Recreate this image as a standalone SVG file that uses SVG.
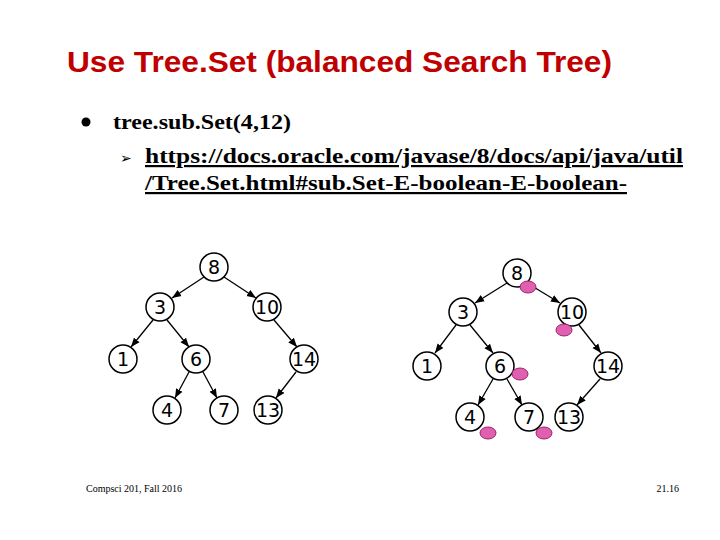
<svg xmlns="http://www.w3.org/2000/svg" width="720" height="540" viewBox="0 0 720 540">
<style>
.n circle{fill:#fff;stroke:#000;stroke-width:1.5}
.n text{font-family:"DejaVu Sans",sans-serif;font-size:19px;text-anchor:middle;dominant-baseline:central}
.e line{stroke:#000;stroke-width:1.3;marker-end:url(#a)}
.p{fill:#e060b0;stroke:#a02070;stroke-width:1}
.s{font-family:"Liberation Serif",serif;font-weight:bold;font-size:22px}
</style>
<defs><marker id="a" viewBox="0 0 10 10" refX="10" refY="5" markerWidth="7" markerHeight="7" orient="auto"><path d="M0,1L10,5L0,9z"/></marker></defs>
<rect width="720" height="540" fill="#fff"/>
<text x="67" y="72" font-family="Liberation Sans,sans-serif" font-weight="bold" font-size="29" fill="#c00000" textLength="545" lengthAdjust="spacingAndGlyphs">Use Tree.Set (balanced Search Tree)</text>
<circle cx="86" cy="122" r="4.5" fill="#000"/>
<text x="113" y="129" class="s" textLength="178" lengthAdjust="spacingAndGlyphs">tree.sub.Set(4,12)</text>
<text x="120" y="163" font-family="DejaVu Sans,sans-serif" font-size="14">➢</text>
<text x="145" y="163" class="s" text-decoration="underline" textLength="538" lengthAdjust="spacingAndGlyphs">https://docs.oracle.com/javase/8/docs/api/java/util</text>
<text x="145" y="190" class="s" text-decoration="underline" textLength="482" lengthAdjust="spacingAndGlyphs">/Tree.Set.html#sub.Set-E-boolean-E-boolean-</text>
<g id="edges" class="e">
<line x1="204" y1="277" x2="172" y2="298"/><line x1="224" y1="277" x2="256" y2="298"/>
<line x1="153" y1="320" x2="131" y2="347"/><line x1="167" y1="320" x2="189" y2="347"/>
<line x1="274" y1="320" x2="297" y2="347"/><line x1="296" y1="372" x2="276" y2="398"/>
<line x1="189" y1="372" x2="175" y2="398"/><line x1="203" y1="372" x2="217" y2="398"/>
<line x1="507" y1="283" x2="475" y2="303"/><line x1="527" y1="283" x2="560" y2="303"/>
<line x1="456" y1="325" x2="435" y2="353"/><line x1="470" y1="325" x2="493" y2="353"/>
<line x1="579" y1="325" x2="601" y2="353"/><line x1="600" y1="379" x2="577" y2="405"/>
<line x1="493" y1="379" x2="478" y2="405"/><line x1="507" y1="379" x2="522" y2="405"/>
</g>
<g id="n8" class="n"><circle cx="214" cy="267" r="14"/><text x="214" y="267">8</text></g>
<g id="n3" class="n"><circle cx="160" cy="307" r="14"/><text x="160" y="307">3</text></g>
<g id="n10" class="n"><circle cx="267" cy="307" r="14"/><text x="267" y="307">10</text></g>
<g id="n1" class="n"><circle cx="123" cy="359" r="14"/><text x="123" y="359">1</text></g>
<g id="n6" class="n"><circle cx="196" cy="359" r="14"/><text x="196" y="359">6</text></g>
<g id="n14" class="n"><circle cx="304" cy="359" r="14"/><text x="304" y="359">14</text></g>
<g id="n4" class="n"><circle cx="167" cy="410" r="14"/><text x="167" y="410">4</text></g>
<g id="n7" class="n"><circle cx="224" cy="410" r="14"/><text x="224" y="410">7</text></g>
<g id="n13" class="n"><circle cx="268" cy="410" r="14"/><text x="268" y="410">13</text></g>
<g id="m8" class="n"><circle cx="517" cy="273" r="14"/><text x="517" y="273">8</text></g>
<g id="m3" class="n"><circle cx="463" cy="312" r="14"/><text x="463" y="312">3</text></g>
<g id="m10" class="n"><circle cx="572" cy="312" r="14"/><text x="572" y="312">10</text></g>
<g id="m1" class="n"><circle cx="427" cy="366" r="14"/><text x="427" y="366">1</text></g>
<g id="m6" class="n"><circle cx="500" cy="366" r="14"/><text x="500" y="366">6</text></g>
<g id="m14" class="n"><circle cx="608" cy="366" r="14"/><text x="608" y="366">14</text></g>
<g id="m4" class="n"><circle cx="470" cy="417" r="14"/><text x="470" y="417">4</text></g>
<g id="m7" class="n"><circle cx="529" cy="417" r="14"/><text x="529" y="417">7</text></g>
<g id="m13" class="n"><circle cx="569" cy="417" r="14"/><text x="569" y="417">13</text></g>
<g id="marks">
<ellipse class="p" cx="528" cy="287" rx="8" ry="6"/><ellipse class="p" cx="564" cy="330" rx="8" ry="6"/>
<ellipse class="p" cx="520" cy="374" rx="8" ry="6"/><ellipse class="p" cx="488" cy="433" rx="8" ry="6"/>
<ellipse class="p" cx="544" cy="433" rx="8" ry="6"/>
</g>
<text x="86" y="492" font-family="Liberation Serif,serif" font-size="10">Compsci 201, Fall 2016</text>
<text x="679" y="492" font-family="Liberation Serif,serif" font-size="10" text-anchor="end">21.16</text>
</svg>
